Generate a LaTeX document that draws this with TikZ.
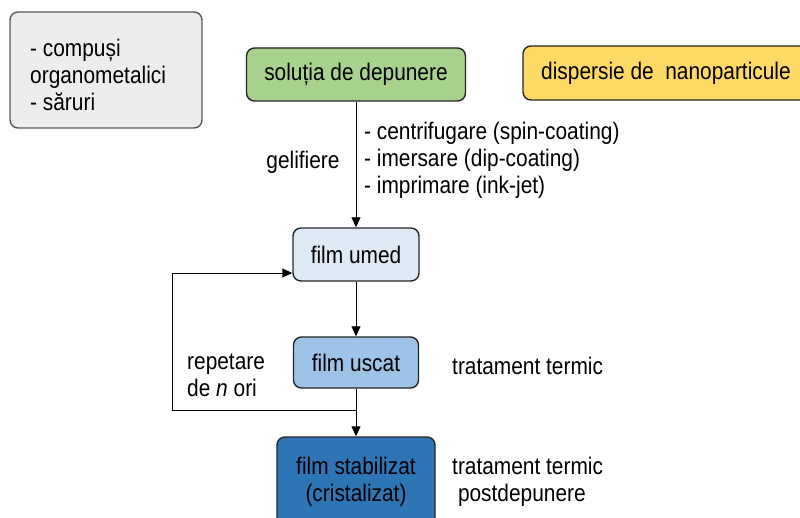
\documentclass[tikz,border=0pt]{standalone}
\usepackage{fontspec}
\setmainfont{Liberation Sans}[FakeStretch=0.87]
\usetikzlibrary{arrows.meta,calc}
\definecolor{greyfill}{HTML}{EDEDED}
\definecolor{greenfill}{HTML}{A9D18E}
\definecolor{yellowfill}{HTML}{FFD966}
\definecolor{blueA}{HTML}{DEEBF7}
\definecolor{blueB}{HTML}{9DC3E6}
\definecolor{blueC}{HTML}{2E75B6}
\tikzset{
  box/.style={draw=black!85, line width=1.4pt, rounded corners=8pt, inner sep=0pt, align=center,
    font=\fontsize{24}{27}\selectfont},
  lbl/.style={inner sep=0pt, align=left, font=\fontsize{24}{27}\selectfont},
  conn/.style={line width=0.9pt, black},
  arr/.style={conn, -{Triangle[length=10pt,width=9pt]}}
}
\begin{document}
\begin{tikzpicture}[x=1pt,y=-1pt]
\useasboundingbox (0,0) rectangle (800,518);
\node[box, draw=black!65, fill=greyfill, minimum width=192pt, minimum height=116pt] (grey) at (106,70) {};
\node[lbl, anchor=west] (greytext) at (30,75) {- compuși\\organometalici\\- săruri};
\node[box, fill=greenfill, minimum width=219pt, minimum height=53pt] (sol) at (356,74.5) {soluția de depunere};
\node[box, fill=yellowfill, minimum width=286pt, minimum height=54pt] (disp) at (666,73) {dispersie de\ \ nanoparticule};
\node[box, fill=blueA, minimum width=126pt, minimum height=53pt] (umed) at (356,254.5) {film umed};
\node[box, fill=blueB, minimum width=125pt, minimum height=51pt] (uscat) at (356,362.5) {film uscat};
\node[box, fill=blueC, minimum width=158pt, minimum height=90pt] (stab) at (356,482) {\fontsize{24}{29}\selectfont film stabilizat\\(cristalizat)};

\node[lbl, anchor=west] (list) at (364,160) {- centrifugare (spin-coating)\\- imersare (dip-coating)\\- imprimare (ink-jet)};
\node[lbl] (gel) at (303,162) {gelifiere};
\node[lbl, anchor=west] (rep) at (187,375.5) {repetare\\de \textit{n} ori};
\node[lbl, anchor=west] (tt1) at (452,366) {tratament termic};
\node[lbl, anchor=west] (tt2) at (452,482) {tratament termic\\\ postdepunere};

\draw[arr] (sol.south) -- (umed.north);
\draw[arr] (umed.south) -- (uscat.north);
\draw[arr] (uscat.south) -- (stab.north);
\coordinate (loopstart) at (356,410);
\coordinate (loopend) at ($(umed.west)+(0,18.5)$);
\coordinate (loopcorner) at (172,410);
\draw[arr] (loopstart) -- (loopcorner) |- (loopend);
\end{tikzpicture}
\end{document}
